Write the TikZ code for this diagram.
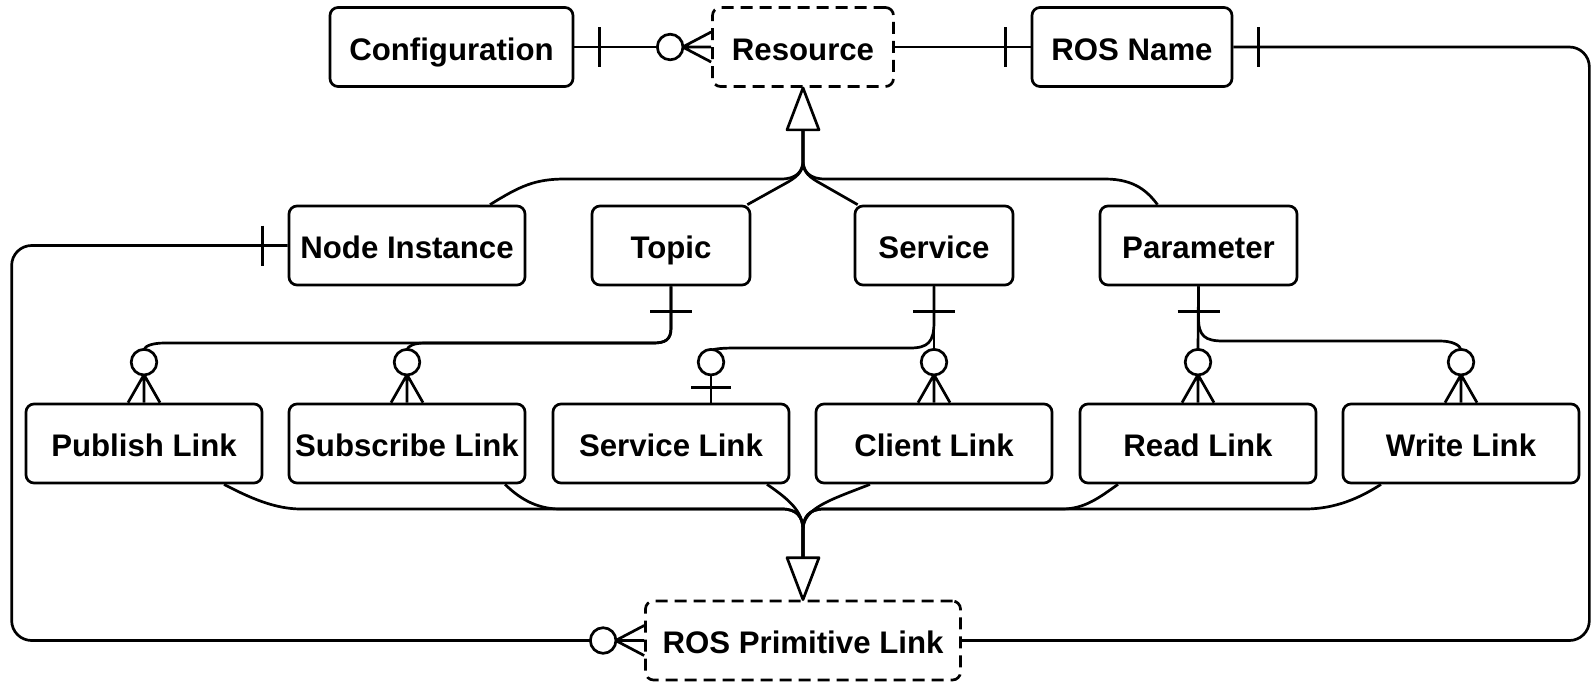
\documentclass[tikz,border=0pt]{standalone}
\usepackage{fontspec}
\setmainfont{Liberation Sans}
\usetikzlibrary{calc}

\tikzset{
  ln/.style={line width=1.35pt, line join=round},
  ent/.style={draw, line width=1.35pt, rounded corners=4pt, minimum height=39.5pt,
    inner sep=0pt, text height=13pt, text depth=0pt, fill=white,
    font=\fontsize{15.6}{18}\selectfont\bfseries},
  abstract/.style={ent, dash pattern=on 6pt off 3.5pt},
  % zero-or-many, entity to the right of the mark
  zmanyH/.pic={
    \draw[ln, fill=white] (-41,0) circle[radius=6.4pt];
    \draw[ln] (-28.5,0) -- (0,-15) (-28.5,0) -- (0,0) (-28.5,0) -- (0,15);
  },
  % zero-or-many, entity below the mark
  zmanyV/.pic={
    \draw[ln, fill=white] (0,-40.5) circle[radius=6.4pt];
    \draw[ln] (0,-28) -- (-16,0) (0,-28) -- (0,0) (0,-28) -- (16,0);
  },
  % zero-or-one, entity below the mark
  zoneV/.pic={
    \draw[ln, fill=white] (0,-40.5) circle[radius=6.4pt];
    \draw[ln] (0,-28) -- (0,0) (-20,-15) -- (20,-15);
  },
  barH/.pic={\draw[ln] (0,-20) -- (0,20);},
  barV/.pic={\draw[ln] (-21,0) -- (21,0);},
}

\begin{document}
\begin{tikzpicture}[x=0.5pt, y=-0.5pt]
\useasboundingbox (0,0) rectangle (1591,681);

% ---- entities ----
\node[ent, minimum width=121.5pt] (conf) at (451.5,47) {Configuration};
\node[abstract, minimum width=90.5pt] (res) at (803,47) {Resource};
\node[ent, minimum width=100pt] (rosname) at (1132,47) {ROS Name};

\node[ent, minimum width=118pt] (ni) at (407,245.5) {Node Instance};
\node[ent, minimum width=79pt] (topic) at (671,245.5) {Topic};
\node[ent, minimum width=79pt] (service) at (934,245.5) {Service};
\node[ent, minimum width=98.5pt] (param) at (1198.5,245.5) {Parameter};

\node[ent, minimum width=118pt] (pub) at (144,443.5) {Publish Link};
\node[ent, minimum width=118pt] (sub) at (407,443.5) {Subscribe Link};
\node[ent, minimum width=118pt] (slink) at (671,443.5) {Service Link};
\node[ent, minimum width=118pt] (clink) at (934,443.5) {Client Link};
\node[ent, minimum width=118pt] (rlink) at (1198,443.5) {Read Link};
\node[ent, minimum width=118pt] (wlink) at (1461,443.5) {Write Link};

\node[abstract, minimum width=157.5pt] (prim) at (803,640.5) {ROS Primitive Link};

% ---- relations on the top row ----
\draw[ln] (conf.east) -- ($(res.west)+(-53.5,0)$);
\pic at ($(conf.east)+(25,0)$) {barH};
\pic at (res.west) {zmanyH};

\draw[ln] (res.east) -- (rosname.west);
\pic at ($(rosname.west)+(-25,0)$) {barH};

\draw[ln, rounded corners=10pt] (rosname.east) -- ++(356,0) |- (prim.east);
\pic at ($(rosname.east)+(25,0)$) {barH};

\draw[ln, rounded corners=10pt] (ni.west) -- ++(-276,0) |- ($(prim.west)+(-53.5,0)$);
\pic at ($(ni.west)+(-25,0)$) {barH};
\pic at (prim.west) {zmanyH};

% ---- generalisation into Resource ----
\coordinate (gtop) at ($(res.south)+(0,42)$);
\draw[ln] (gtop) -- (803,160) .. controls (803,172) and (796,179) .. (781,179)
  -- (565,179) .. controls (535,179) and (520,186) .. ($(ni.north)+(83,0)$);
\draw[ln] (gtop) -- (803,160) .. controls (803,170) and (800,175) .. (788,182)
  -- ($(topic.north east)+(-4,0)$);
\draw[ln] (gtop) -- (803,160) .. controls (803,170) and (806,175) .. (818,182)
  -- ($(service.north west)+(4,0)$);
\draw[ln] (gtop) -- (803,160) .. controls (803,172) and (810,179) .. (825,179)
  -- (1105,179) .. controls (1135,179) and (1148,192) .. ($(param.north)+(-41,0)$);
\draw[ln, fill=white] (res.south) -- ($(gtop)+(-16,0)$) -- ($(gtop)+(16,0)$) -- cycle;

% ---- generalisation into ROS Primitive Link ----
\coordinate (gbot) at ($(prim.north)+(0,-42)$);
\draw[ln] (gbot) -- (803,530) .. controls (803,517) and (797,509) .. (782,509)
  -- (301,509) .. controls (275,509) and (250,498) .. ($(pub.south)+(80,0)$);
\draw[ln] (gbot) -- (803,530) .. controls (803,517) and (797,509) .. (782,509)
  -- (560,509) .. controls (535,509) and (518,497) .. ($(sub.south)+(98,0)$);
\draw[ln] (gbot) -- (803,530) .. controls (803,512) and (790,500) .. ($(slink.south)+(96,0)$);
\draw[ln] (gbot) -- (803,530) .. controls (803,508) and (830,500) .. ($(clink.south)+(-64,0)$);
\draw[ln] (gbot) -- (803,530) .. controls (803,517) and (809,509) .. (824,509)
  -- (1062,509) .. controls (1085,509) and (1100,497) .. ($(rlink.south)+(-80,0)$);
\draw[ln] (gbot) -- (803,530) .. controls (803,517) and (809,509) .. (824,509)
  -- (1305,509) .. controls (1335,509) and (1360,498) .. ($(wlink.south)+(-80,0)$);
\draw[ln, fill=white] (prim.north) -- ($(gbot)+(-16,0)$) -- ($(gbot)+(16,0)$) -- cycle;

% ---- Topic links ----
\draw[ln] (topic.south) -- (671,328) .. controls (671,340) and (665,343) .. (653,343)
  -- (165,343) .. controls (152,343) and (145,346) .. ($(pub.north)+(0,-53)$);
\draw[ln] (topic.south) -- (671,328) .. controls (671,340) and (665,343) .. (653,343)
  -- (425,343) .. controls (414,343) and (408,346) .. ($(sub.north)+(0,-53)$);
\pic at ($(topic.south)+(0,25)$) {barV};
\pic at (pub.north) {zmanyV};
\pic at (sub.north) {zmanyV};

% ---- Service links ----
\draw[ln] (service.south) -- ($(clink.north)+(0,-53)$);
\draw[ln] (service.south) -- (934,322) .. controls (934,342) and (928,348) .. (910,348)
  -- (735,348) .. controls (722,348) and (715,349) .. ($(slink.north)+(42,-53)$);
\pic at ($(service.south)+(0,25)$) {barV};
\pic at ($(slink.north)+(40,0)$) {zoneV};
\pic at (clink.north) {zmanyV};

% ---- Parameter links ----
\draw[ln] (param.south) -- ($(rlink.north)+(0,-53)$);
\draw[ln] (param.south) -- (1198.5,318) .. controls (1198.5,336) and (1205,341) .. (1223,341)
  -- (1440,341) .. controls (1452,341) and (1460,345) .. ($(wlink.north)+(0,-53)$);
\pic at ($(param.south)+(0,25)$) {barV};
\pic at (rlink.north) {zmanyV};
\pic at (wlink.north) {zmanyV};
\end{tikzpicture}
\end{document}
